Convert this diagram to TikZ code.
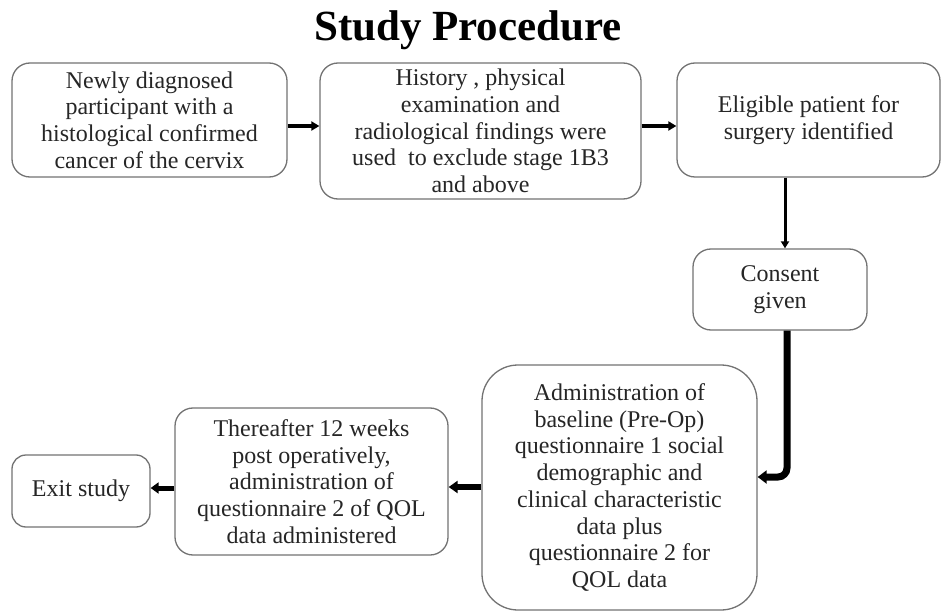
\documentclass[tikz,border=0pt]{standalone}
\usepackage{fontspec}
\setmainfont{Liberation Serif}
\usetikzlibrary{arrows.meta,positioning}
\begin{document}
\begin{tikzpicture}[x=1pt,y=-1pt,
  box/.style={draw=black!55, line width=1.3pt, rounded corners=18pt, align=center,
    inner sep=0pt, font=\fontsize{24}{26.7}\selectfont, text=black!85},
  arr/.style={draw=black, -{Triangle[length=8pt,width=9pt]}},
]
\useasboundingbox[fill=white] (0,0) rectangle (942,612);
\node[font=\fontsize{43}{48}\selectfont\bfseries] (title) at (468,30) {Study Procedure};
\node[box, minimum width=275pt, minimum height=114pt] (b1) at (149.5,120)
  {Newly diagnosed\\participant with a\\histological confirmed\\cancer of the cervix};
\node[box, minimum width=321pt, minimum height=136pt] (b2) at (480.5,131)
  {History , physical\\examination and\\radiological findings were\\used\ \ to exclude stage 1B3\\and above};
\node[box, minimum width=263pt, minimum height=114pt] (b3) at (808.5,120)
  {Eligible patient for\\surgery identified};
\node[box, minimum width=174pt, minimum height=81pt] (b4) at (780,289.5)
  {Consent\\given};
\node[box, rounded corners=36pt, minimum width=275pt, minimum height=245pt] (b5) at (619.5,487.5)
  {Administration of\\baseline (Pre-Op)\\questionnaire 1 social\\demographic and\\clinical characteristic\\data plus\\questionnaire 2 for\\QOL data};
\node[box, minimum width=273pt, minimum height=147pt] (b6) at (311.5,481.5)
  {Thereafter 12 weeks\\post operatively,\\administration of\\questionnaire 2 of QOL\\data administered};
\node[box, rounded corners=14pt, minimum width=138pt, minimum height=72pt] (b7) at (81,491)
  {Exit study};
\coordinate (r1) at (0,126);
\coordinate (c1) at (785,0);
\coordinate (c2) at (787,0);
\coordinate (r2) at (0,477);
\coordinate (r3) at (0,487);
\coordinate (r4) at (0,488);
\draw[arr, line width=4.5pt] (b1.east |- r1) -- (b2.west |- r1);
\draw[arr, line width=4.5pt] (b2.east |- r1) -- (b3.west |- r1);
\draw[arr, line width=3pt, -{Triangle[length=7pt,width=8pt]}] (b3.south -| c1) -- (b4.north -| c1);
\draw[arr, line width=7pt, rounded corners=9pt, -{Triangle[length=9pt,width=13pt]}] (b4.south -| c2) -- (c2 |- r2) -- (b5.east |- r2);
\draw[arr, line width=6pt, -{Triangle[length=9pt,width=12pt]}] (b5.west |- r3) -- (b6.east |- r3);
\draw[arr, line width=5pt, -{Triangle[length=8pt,width=11pt]}] (b6.west |- r4) -- (b7.east |- r4);
\end{tikzpicture}
\end{document}
